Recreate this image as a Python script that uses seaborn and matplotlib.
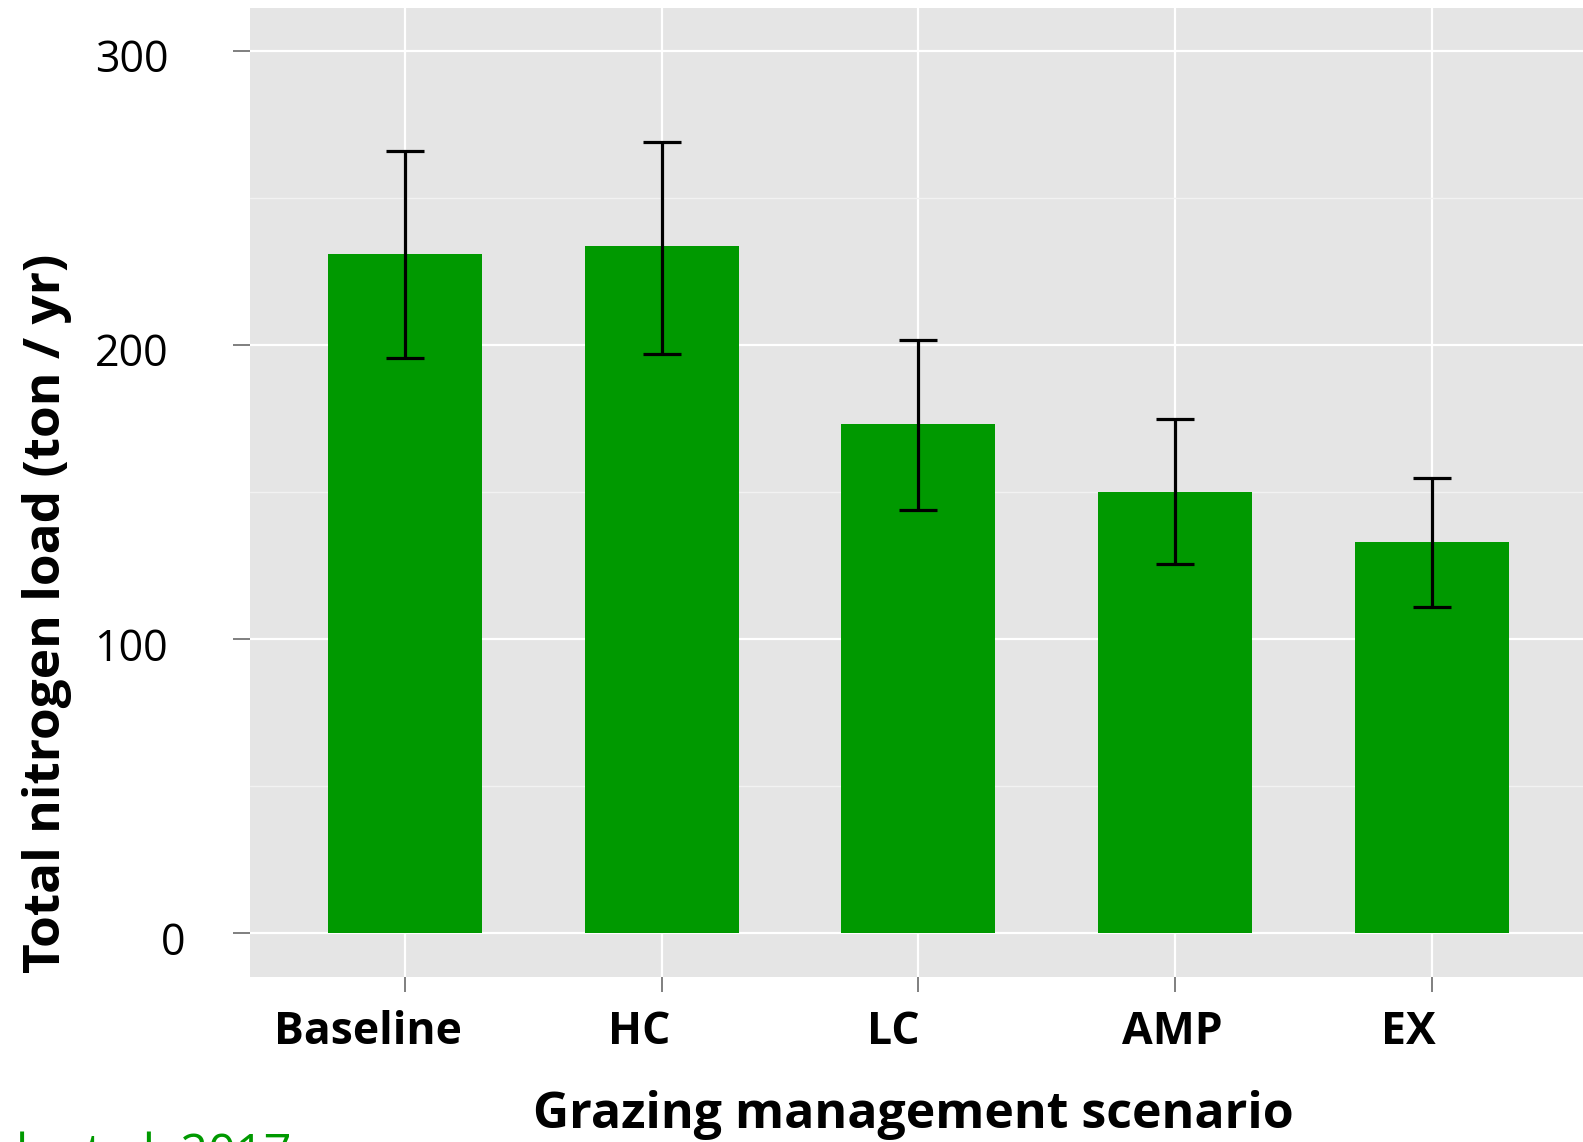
import numpy as np
import pandas as pd
import matplotlib
matplotlib.use("Agg")
import matplotlib.pyplot as plt
from matplotlib.transforms import ScaledTranslation
from matplotlib.ticker import MultipleLocator
import seaborn as sns

# Total nitrogen load per grazing management scenario (ton / yr)
scenarios = ["Baseline", "HC", "LC", "AMP", "EX"]
n_load = [231.0, 233.7, 173.0, 150.0, 132.8]
ci_low = [195.6, 197.0, 143.8, 125.3, 110.8]
ci_high = [266.0, 269.1, 201.5, 174.7, 154.8]

y_ticks = [0, 100, 200, 300]

df = pd.DataFrame({"scenario": scenarios, "load": n_load})

sns.set_theme(style="white")
plt.rcParams["font.family"] = ["Open Sans", "DejaVu Sans"]
plt.rcParams["text.color"] = "black"
plt.rcParams["axes.labelcolor"] = "black"

DPI = 100
fig = plt.figure(figsize=(15.83, 11.42), dpi=DPI)
ax = fig.add_axes([0.1582, 0.1445, 0.8418, 0.8485])
ax.set_facecolor("#E5E5E5")
for s in ax.spines.values():
    s.set_visible(False)

sns.barplot(data=df, x="scenario", y="load", color="#009900", saturation=1,
            width=0.6, errorbar=None, linewidth=0, ax=ax, zorder=2)

pos = np.arange(len(scenarios))
vals = np.array(n_load)
yerr = [vals - np.array(ci_low), np.array(ci_high) - vals]
ax.errorbar(pos, vals, yerr=yerr, fmt="none", ecolor="black",
            elinewidth=2.3, capsize=13.7, capthick=2.3, zorder=3)

ax.set_xlim(-0.6025, 4.59)
ax.set_ylim(-15, 314.5)
ax.set_yticks(y_ticks)
ax.yaxis.set_minor_locator(MultipleLocator(50))

ax.set_axisbelow(True)
ax.grid(which="major", axis="both", color="white", linewidth=1.6, zorder=0)
ax.grid(which="minor", axis="y", color="#F2F2F2", linewidth=1.0, zorder=0)

ax.tick_params(axis="y", which="major", length=12.2, width=1.4, color="#7F7F7F",
               pad=47, labelsize=31, labelcolor="black", left=True)
ax.tick_params(axis="y", which="minor", length=0)
ax.tick_params(axis="x", which="major", length=10.8, width=1.4, color="#7F7F7F",
               pad=13, labelsize=32, labelcolor="black", bottom=True)
for lab in ax.get_xticklabels():
    lab.set_fontweight("bold")

# nudge individual tick labels
x_shift = [-37, -22, -25, -3, -23]
for lab, dx in zip(ax.get_xticklabels(), x_shift):
    lab.set_transform(lab.get_transform() + ScaledTranslation(dx / DPI, 0, fig.dpi_scale_trans))
y_shift = [17, 0, 0, 0]
for lab, dx in zip(ax.get_yticklabels(), y_shift):
    lab.set_transform(lab.get_transform()
                      + ScaledTranslation(dx / DPI, -5 / DPI, fig.dpi_scale_trans))

ax.set_xlabel("Grazing management scenario", fontsize=36, fontweight="bold",
              va="baseline")
ax.xaxis.set_label_coords(913.7 / 1583, 14 / 1142, transform=fig.transFigure)
ax.set_ylabel("Total nitrogen load (ton / yr)", fontsize=37, fontweight="bold",
              va="center")
ax.yaxis.set_label_coords(47 / 1583, 1 - 613 / 1142, transform=fig.transFigure)

fig.text(16 / 1583, -26.6 / 1142, "h et al. 2017", color="#009900",
         fontsize=35, va="baseline", ha="left")

fig.savefig("out.png", dpi=DPI)
